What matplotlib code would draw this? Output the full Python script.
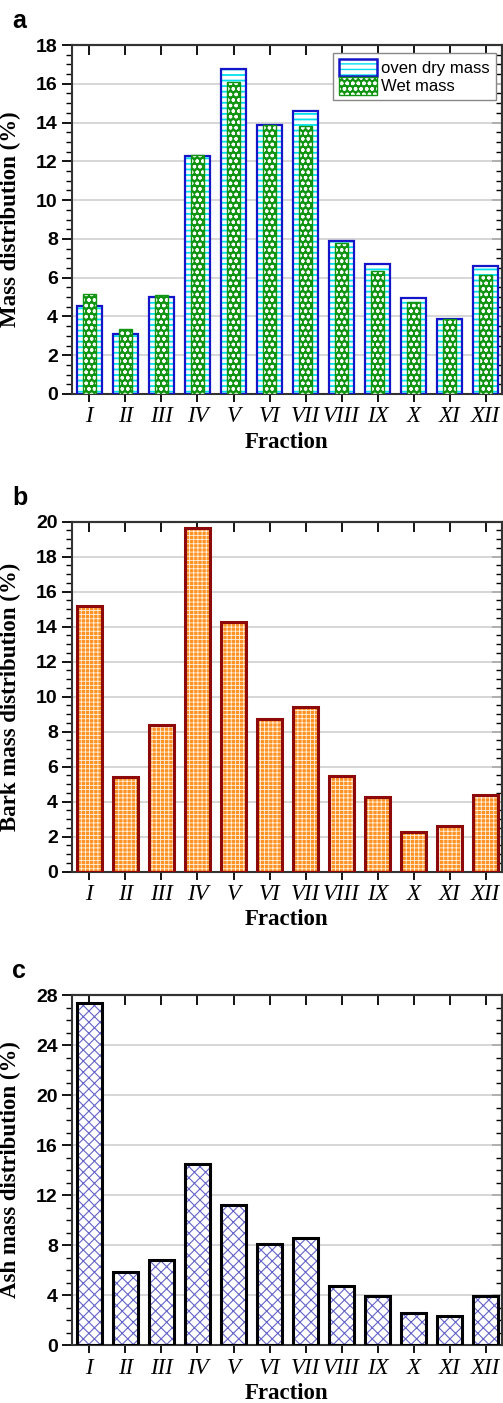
import matplotlib
matplotlib.use("Agg")
import matplotlib.pyplot as plt
from matplotlib.patches import Patch
from matplotlib.legend_handler import HandlerTuple
from matplotlib.ticker import MultipleLocator
import numpy as np

fractions = ["I", "II", "III", "IV", "V", "VI", "VII", "VIII", "IX", "X", "XI", "XII"]
oven_dry = [4.54, 3.09, 5.02, 12.28, 16.74, 13.87, 14.59, 7.89, 6.70, 4.97, 3.87, 6.61]
wet_mass = [5.15, 3.37, 5.10, 12.32, 16.10, 13.85, 13.80, 7.80, 6.36, 4.73, 3.85, 6.13]
bark_mass = [15.18, 5.39, 8.38, 19.66, 14.29, 8.71, 9.43, 5.47, 4.25, 2.29, 2.63, 4.38]
ash_mass = [27.33, 5.87, 6.80, 14.45, 11.20, 8.05, 8.53, 4.75, 3.89, 2.53, 2.32, 3.89]

W, H = 503, 1403
fig = plt.figure(figsize=(W / 100, H / 100), dpi=100)

SANS = "Liberation Sans"
SERIF = "Liberation Serif"

BLUE = "#1414C8"
CYAN = "#00E0EE"
GREEN = "#119411"
ORANGE = "#FF9224"
DARKRED = "#8E0A0A"
PURPLE = "#6464C8"

x = np.arange(1, len(fractions) + 1)

def axes_box(top_px, bottom_px):
    left = 71.7 / W
    width = (502.0 - 71.7) / W
    bottom = 1 - bottom_px / H
    height = (bottom_px - top_px) / H
    return fig.add_axes([left, bottom, width, height])

def style_axes(ax, ymax, ystep, yminor, ylabel, letter, letter_y):
    ax.set_xlim(0.51, 12.45)
    ax.set_ylim(0, ymax)
    ax.set_yticks(np.arange(0, ymax + 0.01, ystep))
    ax.yaxis.set_minor_locator(MultipleLocator(yminor))
    ax.set_xticks(x)
    ax.set_xticklabels(fractions, fontfamily=SERIF, fontstyle="italic", fontsize=16.5)
    for lab in ax.get_yticklabels():
        lab.set_fontfamily(SANS)
        lab.set_fontweight("bold")
        lab.set_fontsize(14)
    ax.tick_params(axis="y", which="major", direction="out", length=7, width=1.3, pad=3)
    ax.tick_params(axis="y", which="minor", direction="out", length=4, width=1.0)
    ax.tick_params(axis="x", which="major", direction="out", length=6, width=1.3, pad=3)
    ax.grid(axis="y", color="#CFCFCF", linewidth=1.2)
    ax.set_axisbelow(True)
    for s in ax.spines.values():
        s.set_linewidth(1.5)
        s.set_color("#333333")
    ax.set_xlabel("Fraction", fontfamily=SERIF, fontweight="bold", fontsize=16.5, labelpad=3)
    ax.set_ylabel(ylabel, fontfamily=SERIF, fontweight="bold", fontsize=16.5, labelpad=6)
    ax.yaxis.set_label_coords(-0.118, 0.5)
    # right and top ticks pointing inward
    sy = ax.secondary_yaxis("right")
    sy.set_yticks(np.arange(0, ymax + 0.01, ystep))
    sy.yaxis.set_minor_locator(MultipleLocator(yminor))
    sy.tick_params(axis="y", which="major", direction="in", length=7, width=1.3, labelright=False)
    sy.tick_params(axis="y", which="minor", direction="in", length=4, width=1.0)
    sy.spines["right"].set_linewidth(1.5)
    sy.spines["right"].set_color("#333333")
    sx = ax.secondary_xaxis("top")
    sx.set_xticks(x)
    sx.tick_params(axis="x", which="major", direction="in", length=7, width=1.3, labeltop=False)
    sx.spines["top"].set_linewidth(1.5)
    sx.spines["top"].set_color("#333333")
    fig.text(12 / W, 1 - letter_y / H, letter, fontfamily=SANS, fontweight="bold",
             fontsize=18, va="baseline", ha="left")

# ---------- Panel a ----------
ax1 = axes_box(45, 394)
with plt.rc_context({"hatch.linewidth": 1.3}):
    ax1.bar(x, oven_dry, width=0.69, facecolor="white", edgecolor=CYAN, hatch="---",
            linewidth=0, zorder=2)
ax1.bar(x, oven_dry, width=0.69, fill=False, edgecolor=BLUE, linewidth=1.6, zorder=3)
with plt.rc_context({"hatch.linewidth": 0.9}):
    ax1.bar(x, wet_mass, width=0.36, facecolor=GREEN, edgecolor="white", hatch="ooo",
            linewidth=0, zorder=4)
ax1.bar(x, wet_mass, width=0.36, fill=False, edgecolor=GREEN, linewidth=1.0, zorder=5)
style_axes(ax1, 18, 2, 0.5, "Mass distribution (%)", "a", 28)

with plt.rc_context({"hatch.linewidth": 1.3}):
    h_oven = (Patch(facecolor="white", edgecolor=CYAN, hatch="---", linewidth=0),
              Patch(fill=False, edgecolor=BLUE, linewidth=1.8))
with plt.rc_context({"hatch.linewidth": 0.9}):
    h_wet = (Patch(facecolor=GREEN, edgecolor="white", hatch="ooo", linewidth=0),
             Patch(fill=False, edgecolor=GREEN, linewidth=1.0))
leg = ax1.legend([h_oven, h_wet], ["oven dry mass", "Wet mass"],
                 handler_map={tuple: HandlerTuple(ndivide=1, pad=0)},
                 loc="upper right", bbox_to_anchor=(0.985, 0.978),
                 prop={"family": SANS, "size": 12}, frameon=True, fancybox=False,
                 edgecolor="#888888", framealpha=1, handlelength=2.3, handleheight=1.25,
                 handletextpad=0.25, labelspacing=0.05, borderpad=0.35, borderaxespad=0)
leg.get_frame().set_linewidth(1.0)
leg.set_zorder(10)

# ---------- Panel b ----------
ax2 = axes_box(521.7, 871.7)
with plt.rc_context({"hatch.linewidth": 0.6}):
    ax2.bar(x, bark_mass, width=0.70, facecolor=ORANGE, edgecolor="#FFF2E0", hatch="++++",
            linewidth=0, zorder=2)
ax2.bar(x, bark_mass, width=0.70, fill=False, edgecolor=DARKRED, linewidth=2.2, zorder=3)
style_axes(ax2, 20, 2, 0.5, "Bark mass distribution (%)", "b", 505)

# ---------- Panel c ----------
ax3 = axes_box(995, 1345)
with plt.rc_context({"hatch.linewidth": 0.8}):
    ax3.bar(x, ash_mass, width=0.70, facecolor="white", edgecolor=PURPLE, hatch="xxx",
            linewidth=0, zorder=2)
ax3.bar(x, ash_mass, width=0.70, fill=False, edgecolor="black", linewidth=2.2, zorder=3)
style_axes(ax3, 28, 4, 1, "Ash mass distribution (%)", "c", 978)

fig.savefig("out.png", dpi=100)
